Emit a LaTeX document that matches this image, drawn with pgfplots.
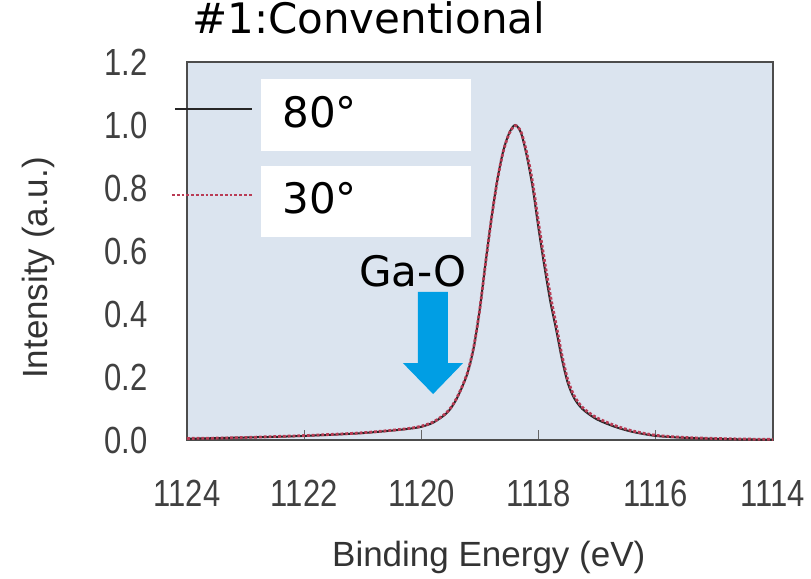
\documentclass[border=0pt]{standalone}
\usepackage{fontspec}
\setmainfont{Liberation Sans}
\newfontfamily\verd{DejaVu Sans}
\newfontfamily\tickfont[FakeStretch=0.82]{Liberation Sans}
\usepackage{pgfplots}
\usepackage{pgfplotstable}
\pgfplotsset{compat=1.18}
\definecolor{bgblue}{RGB}{219,228,239}
\definecolor{arrowblue}{RGB}{0,158,228}
\definecolor{redline}{RGB}{185,60,85}

\pgfplotstableread{
x y
1124.0 0.004
1123.5 0.006
1123.0 0.008
1122.5 0.010
1122.0 0.013
1121.5 0.017
1121.0 0.022
1120.5 0.030
1120.2 0.036
1120.0 0.042
1119.8 0.055
1119.6 0.080
1119.5 0.100
1119.4 0.130
1119.3 0.170
1119.2 0.220
1119.1 0.300
1119.0 0.420
1118.9 0.570
1118.8 0.710
1118.7 0.830
1118.6 0.920
1118.5 0.975
1118.4 1.000
1118.3 0.975
1118.2 0.900
1118.1 0.800
1118.0 0.670
1117.9 0.550
1117.8 0.440
1117.7 0.350
1117.6 0.255
1117.5 0.180
1117.4 0.135
1117.3 0.108
1117.2 0.090
1117.0 0.065
1116.7 0.042
1116.4 0.026
1116.0 0.013
1115.5 0.007
1115.0 0.004
1114.5 0.002
1114.0 0.001
}\deg

\pgfplotstableread{
x y
1124.0 0.005
1123.5 0.006
1123.0 0.008
1122.5 0.011
1122.0 0.014
1121.5 0.018
1121.0 0.023
1120.5 0.031
1120.2 0.037
1120.0 0.044
1119.8 0.057
1119.6 0.082
1119.5 0.102
1119.4 0.132
1119.3 0.172
1119.2 0.222
1119.1 0.302
1119.0 0.420
1118.9 0.568
1118.8 0.708
1118.7 0.828
1118.6 0.918
1118.5 0.973
1118.4 0.998
1118.3 0.978
1118.2 0.910
1118.1 0.815
1118.0 0.688
1117.9 0.570
1117.8 0.460
1117.7 0.366
1117.6 0.268
1117.5 0.190
1117.4 0.143
1117.3 0.114
1117.2 0.095
1117.0 0.070
1116.7 0.046
1116.4 0.029
1116.0 0.015
1115.5 0.008
1115.0 0.005
1114.5 0.003
1114.0 0.002
}\degthirty

\begin{document}
\begin{tikzpicture}
\begin{axis}[
  scale only axis, width=293pt, height=189pt,
  at={(0,0)}, anchor=south west,
  xmin=1114, xmax=1124, x dir=reverse,
  ymin=0, ymax=1.2,
  xtick={1114,1116,1118,1120,1122,1124},
  xticklabels={1114,1116,1118,1120,1122,1124},
  ytick={0,0.2,0.4,0.6,0.8,1.0,1.2},
  yticklabels={0.0,0.2,0.4,0.6,0.8,1.0,1.2},
  xtick pos=lower, tick align=inside,
  major tick length=5pt,
  ytick style={draw=none},
  xtick style={black!60, line width=0.6pt},
  tick label style={font=\tickfont\fontsize{18.9pt}{20pt}\selectfont, text=black!75, inner sep=0pt},
  xticklabel style={anchor=center, yshift=-26.75pt},
  yticklabel style={anchor=east, xshift=-19.5pt},
  axis background/.style={fill=bgblue},
  axis line style={draw=black!70, line width=0.8pt},
  clip=false,
  title={\#1:Conventional},
  title style={at={(axis description cs:0.31,1.085)}, anchor=center, font=\verd\fontsize{21pt}{24pt}\selectfont, inner sep=0pt},
  xlabel={Binding Energy (eV)},
  ylabel={Intensity (a.u.)},
  label style={font=\fontsize{17.5pt}{20pt}\selectfont, text=black!80, inner sep=0pt},
  xlabel style={at={(axis description cs:0.515,-0.31)}, anchor=center},
  ylabel style={at={(axis description cs:-0.254,0.455)}, anchor=center},
]
\addplot[black!85, line width=1pt, smooth] table[x=x, y=y] {\deg};
\addplot[redline, densely dotted, line width=1.4pt, smooth] table[x=x, y=y] {\degthirty};

% legend samples (labels covered by white boxes, as in the source)
\draw[black!85, line width=1pt] (axis cs:1124.205,1.051) -- (axis cs:1122.89,1.051);
\draw[redline, densely dotted, line width=1.4pt] (axis cs:1124.256,0.778) -- (axis cs:1122.89,0.778);
\fill[white] (axis cs:1122.737,1.146) rectangle (axis cs:1119.154,0.917);
\fill[white] (axis cs:1122.737,0.870) rectangle (axis cs:1119.154,0.644);
\node[anchor=west, font=\verd\fontsize{21pt}{24pt}\selectfont, inner sep=0pt] at (axis cs:1122.38,1.041) {80°};
\node[anchor=west, font=\verd\fontsize{21pt}{24pt}\selectfont, inner sep=0pt] at (axis cs:1122.38,0.768) {30°};
\node[anchor=center, font=\verd\fontsize{21pt}{24pt}\selectfont, inner sep=0pt] at (axis cs:1120.14,0.537) {Ga-O};
\fill[arrowblue] (axis cs:1120.058,0.470) -- (axis cs:1119.546,0.470) -- (axis cs:1119.546,0.244)
  -- (axis cs:1119.29,0.244) -- (axis cs:1119.80,0.146) -- (axis cs:1120.314,0.244)
  -- (axis cs:1120.058,0.244) -- cycle;
\end{axis}
\pgfresetboundingbox
\path (-93.5pt,-69.5pt) rectangle (312pt,220pt);
\end{tikzpicture}
\end{document}
